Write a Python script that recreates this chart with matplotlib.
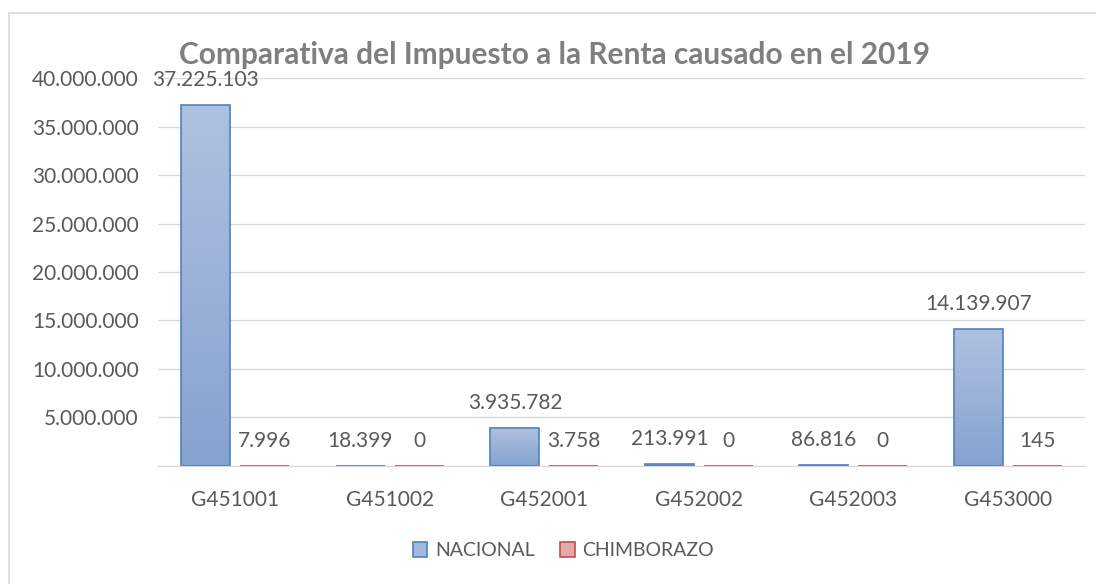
import matplotlib.pyplot as plt
import numpy as np
from matplotlib.colors import LinearSegmentedColormap
from matplotlib.patches import Rectangle

plt.rcParams['font.family'] = ['Lato', 'DejaVu Sans']

categorias = ['G451001', 'G451002', 'G452001', 'G452002', 'G452003', 'G453000']
nacional = [37225103, 18399, 3935782, 213991, 86816, 14139907]
chimborazo = [7996, 0, 3758, 0, 0, 145]
etiquetas_y = ['', '5.000.000', '10.000.000', '15.000.000', '20.000.000',
               '25.000.000', '30.000.000', '35.000.000', '40.000.000']


def fmt(v):
    return f'{v:,}'.replace(',', '.')


gris = '#595959'
fs = 15
fig = plt.figure(figsize=(10.96, 5.84), dpi=100)
fig.patches.append(Rectangle((0.0082, -0.05), 1.05, 1.028, transform=fig.transFigure,
                             fill=False, edgecolor='#d9d9d9', lw=1.2))
ax = fig.add_axes([0.1442, 0.2021, 0.8458, 0.6643])

x = np.arange(len(categorias))
w = 0.317
off = 0.19

cm_azul = LinearSegmentedColormap.from_list('az', ['#86a2d0', '#afc1e0'])
cm_rojo = LinearSegmentedColormap.from_list('ro', ['#d88b89', '#eab9b8'])


def barras(pos, vals, cmap, borde):
    bars = ax.bar(pos, vals, w, color='none', edgecolor=borde, lw=1.2, zorder=3)
    for b in bars:
        h = b.get_height()
        if h <= 0:
            continue
        grad = np.linspace(0, 1, 256).reshape(-1, 1)
        im = ax.imshow(grad, cmap=cmap, aspect='auto', origin='lower',
                       extent=[b.get_x(), b.get_x() + w, 0, max(h, 1)], zorder=2)
        im.set_clip_path(b)
    return bars


b1 = barras(x - off, nacional, cm_azul, '#4f81bd')
b2 = barras(x + off, chimborazo, cm_rojo, '#c0504d')

for xi, v in zip(x - off, nacional):
    ax.annotate(fmt(v), (xi, v), xytext=(0, 18), textcoords='offset points',
                ha='center', va='center', fontsize=fs, color=gris)
for xi, v in zip(x + off, chimborazo):
    ax.annotate(fmt(v), (xi, v), xytext=(0, 18), textcoords='offset points',
                ha='center', va='center', fontsize=fs, color=gris)

ax.set_xlim(-0.5, len(categorias) - 0.5)
ax.set_ylim(0, 40000000)
ax.set_yticks(np.arange(0, 40000001, 5000000))
ax.set_yticklabels(etiquetas_y)
ax.set_xticks(x)
ax.set_xticklabels(categorias)
ax.tick_params(length=0, labelsize=fs, colors=gris)
ax.tick_params(axis='x', pad=17)
ax.tick_params(axis='y', pad=14)
ax.grid(axis='y', color='#d9d9d9', lw=1, zorder=0)
ax.set_axisbelow(True)
for s in ['top', 'right', 'left']:
    ax.spines[s].set_visible(False)
ax.spines['bottom'].set_color('#d9d9d9')

fig.text(0.506, 0.906, 'Comparativa del Impuesto a la Renta causado en el 2019',
         ha='center', va='center', fontsize=21.5, fontweight='bold', color='#7f7f7f')

h1 = Rectangle((0, 0), 1, 1, facecolor='#a2b7dc', edgecolor='#4f81bd', lw=1.2)
h2 = Rectangle((0, 0), 1, 1, facecolor='#e3a9a8', edgecolor='#c0504d', lw=1.2)
fig.legend([h1, h2], ['NACIONAL', 'CHIMBORAZO'], loc='center', bbox_to_anchor=(0.514, 0.057),
           ncol=2, frameon=False, fontsize=14, labelcolor=gris, handlelength=0.75,
           handleheight=0.75, handletextpad=0.4, columnspacing=1.3)

fig.savefig('out.png', dpi=100)
